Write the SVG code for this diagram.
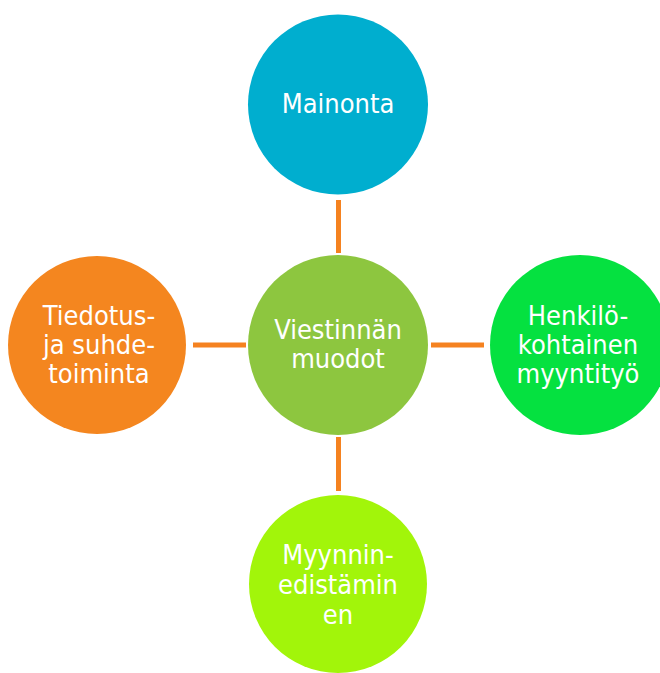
<svg xmlns="http://www.w3.org/2000/svg" width="660" height="673" viewBox="0 0 660 673">
<style>
.lbl{font-family:"DejaVu Sans Condensed","DejaVu Sans",sans-serif;font-stretch:condensed;font-size:27px;fill:#ffffff;text-anchor:middle}
.con{stroke:#F58220;stroke-width:5;fill:none}
</style>
<rect width="660" height="673" fill="#ffffff"/>
<g id="connectors">
<line class="con" x1="338.5" y1="200" x2="338.5" y2="253"/>
<line class="con" x1="193" y1="345" x2="246" y2="345"/>
<line class="con" x1="431" y1="345" x2="484" y2="345"/>
<line class="con" x1="338.5" y1="437" x2="338.5" y2="491"/>
</g>
<g id="mainonta">
<circle cx="338" cy="104.5" r="90" fill="#00AECF"/>
<text class="lbl" x="338" y="113">Mainonta</text>
</g>
<g id="viestinnan-muodot">
<circle cx="338" cy="345" r="90" fill="#8DC63F"/>
<text class="lbl" x="338" y="339">Viestinnän</text>
<text class="lbl" x="338" y="368">muodot</text>
</g>
<g id="henkilokohtainen">
<circle cx="580" cy="345" r="90" fill="#05E140"/>
<text class="lbl" x="578" y="325">Henkilö-</text>
<text class="lbl" x="578" y="354">kohtainen</text>
<text class="lbl" x="578" y="383">myyntityö</text>
</g>
<g id="tiedotus">
<circle cx="97" cy="345" r="89" fill="#F4861F"/>
<text class="lbl" x="99" y="325">Tiedotus-</text>
<text class="lbl" x="99" y="354">ja suhde-</text>
<text class="lbl" x="99" y="383">toiminta</text>
</g>
<g id="myynninedistaminen">
<circle cx="338" cy="584" r="89" fill="#A2F50A"/>
<text class="lbl" x="338" y="564">Myynnin-</text>
<text class="lbl" x="338" y="594">edistämin</text>
<text class="lbl" x="338" y="624">en</text>
</g>
</svg>
